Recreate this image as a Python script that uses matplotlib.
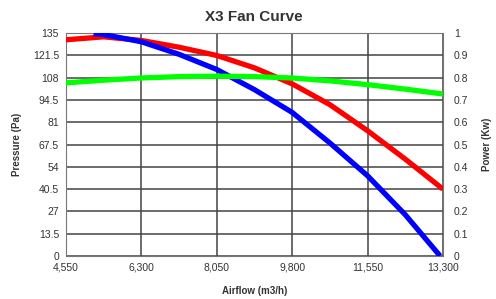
import matplotlib
matplotlib.use("Agg")
import matplotlib.pyplot as plt
from matplotlib.ticker import FuncFormatter

plt.rcParams["font.family"] = ["Liberation Sans", "DejaVu Sans"]

# airflow (m3/h)
flow = [4550, 5425, 6300, 7175, 8050, 8925, 9800, 10675, 11550, 12425, 13300]
total_pa = [131, 132.8, 130.6, 126.5, 121.5, 114, 104.3, 91.7, 75.9, 58.7, 40.5]
flow_static = [5190, 5425, 6300, 7175, 8050, 8925, 9800, 10675, 11550, 12425, 13234]
static_pa = [134.7, 134.2, 129.8, 122.2, 113.0, 100.8, 87, 68.5, 48.6, 25.0, 0]
power_kw = [0.777, 0.789, 0.799, 0.805, 0.807, 0.805, 0.799, 0.786, 0.769, 0.749, 0.727]

xticks = [4550, 6300, 8050, 9800, 11550, 13300]
pticks = [0, 13.5, 27, 40.5, 54, 67.5, 81, 94.5, 108, 121.5, 135]
wticks = [0, 0.1, 0.2, 0.3, 0.4, 0.5, 0.6, 0.7, 0.8, 0.9, 1]

TXT = "#333333"
GRID = "#444444"

fig = plt.figure(figsize=(4.96, 2.99), dpi=100)
ax = fig.add_axes([0.133, 0.144, 0.760, 0.745])
ax.plot(flow, total_pa, color="#ff0000", lw=3.8, solid_capstyle="butt", zorder=3)
ax.plot(flow_static, static_pa, color="#0000ff", lw=3.8, solid_capstyle="butt", zorder=4)
ax.set_xlim(4550, 13300)
ax.set_ylim(0, 135)
ax.set_xticks(xticks)
ax.set_yticks(pticks)
ax.xaxis.set_major_formatter(FuncFormatter(lambda v, p: f"{int(v):,}"))
ax.yaxis.set_major_formatter(FuncFormatter(lambda v, p: f"{v:g}"))
ax.grid(True, color=GRID, lw=1.1)
ax.set_axisbelow(True)
ax.tick_params(length=0, labelsize=7.5, labelcolor=TXT, pad=5)
for s in ax.spines.values():
    s.set_color("#777777")
ax.set_xlabel("Airflow (m3/h)", fontsize=7, fontweight="bold", color=TXT)
ax.set_ylabel("Pressure (Pa)", fontsize=7, fontweight="bold", color=TXT)
ax.xaxis.set_label_coords(0.5, -0.135)
ax.yaxis.set_label_coords(-0.117, 0.5)

ax2 = ax.twinx()
ax2.plot(flow, power_kw, color="#00ff00", lw=3.8, solid_capstyle="butt")
ax2.set_ylim(0, 1)
ax2.set_yticks(wticks)
ax2.yaxis.set_major_formatter(FuncFormatter(lambda v, p: f"{v:g}"))
ax2.tick_params(length=0, labelsize=7.5, labelcolor=TXT, pad=8)
for s in ax2.spines.values():
    s.set_visible(False)
ax2.set_ylabel("Power (Kw)", fontsize=7, fontweight="bold", color=TXT)
ax2.yaxis.set_label_coords(1.103, 0.5)

fig.text(0.512, 0.943, "X3 Fan Curve", ha="center", va="center",
         fontsize=11, fontweight="bold", color=TXT)
fig.savefig("out.png", dpi=100)
